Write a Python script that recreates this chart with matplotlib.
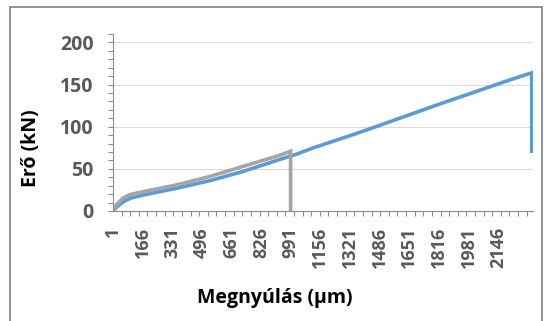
import matplotlib
matplotlib.use('Agg')
import matplotlib.pyplot as plt
from matplotlib.patches import Rectangle
from matplotlib.ticker import FixedLocator, MultipleLocator

# category labels on the x axis (Excel style category axis)
cat_labels = [1, 166, 331, 496, 661, 826, 991, 1156, 1321, 1486, 1651, 1816, 1981, 2146]
n_cats = 2340

# blue series
blue_x = [1, 21, 58, 96, 170, 356, 541, 727, 913, 1024, 1117, 1358, 1524, 1689, 1855, 2020, 2176, 2333, 2333]
blue_y = [0, 4.5, 11, 15, 19, 27, 36, 47, 60, 67.5, 75, 92, 104.5, 117, 129.5, 141.5, 153, 164, 71]

# gray series
gray_x = [1, 21, 58, 96, 170, 356, 541, 727, 913, 978, 990, 990]
gray_y = [0, 8, 15.5, 19.5, 23, 31, 41, 53, 65, 70, 71, 0]

plt.rcParams['font.family'] = ['Open Sans', 'DejaVu Sans']
plt.rcParams['font.weight'] = 'bold'

fig = plt.figure(figsize=(5.48, 3.21), dpi=100)
ax = fig.add_axes([113/548, 110/321, 420/548, 177/321])

ax.plot(blue_x, blue_y, color='#5B9BD5', linewidth=2.6, solid_joinstyle='miter')
ax.plot(gray_x, gray_y, color='#A5A5A5', linewidth=2.6, solid_joinstyle='miter')

ax.set_xlim(1, n_cats)
ax.set_ylim(0, 210)

ax.set_xticks(cat_labels)
ax.set_xticklabels([str(c) for c in cat_labels], rotation=90)
ax.xaxis.set_minor_locator(FixedLocator(list(range(1, n_cats + 1, 48))))
ax.set_yticks([0, 50, 100, 150, 200])
ax.yaxis.set_minor_locator(MultipleLocator(10))

ax.tick_params(axis='x', which='major', length=0, pad=11.5, labelsize=13, labelcolor='#595959')
ax.tick_params(axis='x', which='minor', length=3.6, width=0.8, color='#8C8C8C')
ax.tick_params(axis='y', which='both', length=3.6, width=0.8, color='#8C8C8C')
ax.tick_params(axis='y', which='major', pad=10.5, labelsize=14, labelcolor='#595959')

ax.yaxis.grid(True, which='major', color='#D9D9D9', linewidth=0.75)
ax.set_axisbelow(True)

for s in ['top', 'right']:
    ax.spines[s].set_visible(False)
for s in ['left', 'bottom']:
    ax.spines[s].set_color('#8C8C8C')
    ax.spines[s].set_linewidth(0.8)

fig.text(275/548, 1 - 298/321, 'Megnyúlás (µm)', ha='center', va='center', fontsize=14, color='black')
fig.text(31/548, 1 - 148/321, 'Erő (kN)', ha='center', va='center', rotation=90, fontsize=14, color='black')

# outer chart border
fig.patches.append(Rectangle((10/548, -0.1), 532/548, 1 - 7/321 + 0.1, transform=fig.transFigure,
                             fill=False, edgecolor='#7F7F7F', linewidth=1.2))

fig.savefig('out.png', dpi=100)
